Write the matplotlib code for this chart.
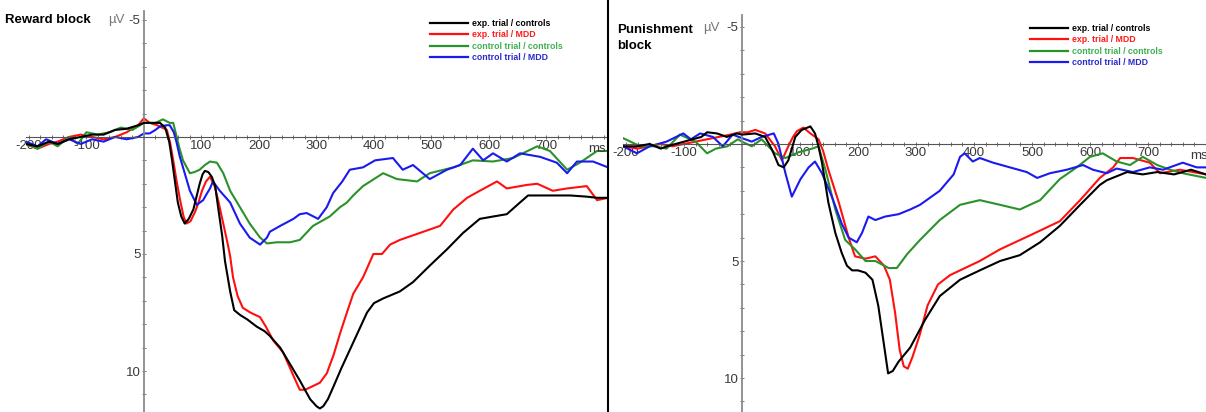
import matplotlib
matplotlib.use('Agg')
import matplotlib.pyplot as plt
from matplotlib.lines import Line2D
from matplotlib.ticker import MultipleLocator, FixedLocator

plt.rcParams['font.family'] = ['Liberation Sans', 'DejaVu Sans']
plt.rcParams['axes.unicode_minus'] = False

# ---- data (ms, µV) ----
labels = ['exp. trial / controls', 'exp. trial / MDD', 'control trial / controls', 'control trial / MDD']
line_colors = ['#000000', '#ff1010', '#2a922a', '#1a1aee']
text_colors = ['#000000', '#ff1a1a', '#3cb050', '#2a2acc']

# Reward block
rw_black_t = [-205, -185, -165, -150, -130, -110, -90, -70, -50, -30, -10, 0, 15, 28, 37, 44, 49, 54, 59, 65, 71, 78, 86, 92, 97, 102, 106, 112, 118, 124, 129, 136, 141, 150, 157, 167, 180, 196, 210, 219, 237, 254, 271, 289, 300, 306, 312, 320, 329, 343, 358, 373, 388, 400, 416, 445, 468, 497, 527, 555, 584, 607, 631, 654, 668, 700, 741, 770, 788, 807]
rw_black = [0.3, 0.4, 0.2, 0.3, 0.1, 0.0, -0.1, -0.1, -0.3, -0.35, -0.5, -0.6, -0.6, -0.6, -0.4, 0.2, 1.0, 1.9, 2.8, 3.4, 3.7, 3.5, 3.1, 2.5, 2.0, 1.6, 1.45, 1.5, 1.7, 2.1, 3.0, 4.2, 5.3, 6.6, 7.4, 7.6, 7.8, 8.1, 8.3, 8.5, 9.0, 9.7, 10.4, 11.2, 11.5, 11.6, 11.5, 11.2, 10.7, 9.9, 9.1, 8.3, 7.5, 7.1, 6.9, 6.6, 6.2, 5.5, 4.8, 4.1, 3.5, 3.4, 3.3, 2.8, 2.5, 2.5, 2.5, 2.55, 2.6, 2.6]

rw_red_t = [-205, -185, -165, -150, -130, -110, -90, -70, -50, -30, -10, 0, 10, 23, 32, 40, 46, 51, 57, 63, 69, 74, 81, 89, 95, 101, 108, 115, 123, 130, 138, 146, 150, 155, 163, 172, 185, 202, 212, 225, 242, 260, 271, 280, 289, 306, 318, 330, 341, 353, 364, 381, 399, 414, 428, 445, 480, 515, 538, 562, 584, 614, 631, 666, 684, 711, 736, 770, 788, 807]
rw_red = [0.3, 0.5, 0.3, 0.2, 0.0, -0.1, 0.0, 0.1, 0.0, -0.2, -0.5, -0.8, -0.6, -0.5, -0.4, -0.3, 0.3, 1.0, 1.9, 2.7, 3.4, 3.7, 3.6, 3.2, 2.8, 2.3, 1.9, 1.7, 2.1, 2.8, 3.7, 4.6, 5.1, 6.0, 6.8, 7.3, 7.5, 7.7, 8.1, 8.7, 9.2, 10.2, 10.8, 10.8, 10.7, 10.5, 10.1, 9.3, 8.4, 7.5, 6.7, 6.0, 5.0, 5.0, 4.6, 4.4, 4.1, 3.8, 3.1, 2.6, 2.3, 1.9, 2.2, 2.05, 2.0, 2.3, 2.2, 2.1, 2.7, 2.6]

rw_green_t = [-205, -185, -165, -150, -130, -115, -100, -80, -60, -40, -20, 0, 20, 33, 45, 51, 57, 62, 68, 80, 88, 97, 106, 115, 127, 138, 150, 167, 184, 202, 214, 231, 254, 271, 294, 323, 341, 353, 364, 381, 400, 416, 440, 475, 497, 538, 572, 607, 642, 684, 706, 736, 758, 788, 807]
rw_green = [0.3, 0.5, 0.2, 0.4, 0.0, 0.3, -0.2, -0.1, -0.2, -0.4, -0.3, -0.6, -0.6, -0.75, -0.6, -0.6, 0.0, 0.5, 1.0, 1.55, 1.5, 1.4, 1.2, 1.05, 1.1, 1.55, 2.3, 3.0, 3.7, 4.3, 4.55, 4.5, 4.5, 4.4, 3.8, 3.4, 3.0, 2.8, 2.5, 2.1, 1.8, 1.55, 1.8, 1.9, 1.55, 1.3, 1.0, 1.05, 0.9, 0.4, 0.6, 1.4, 1.1, 0.6, 0.6]

rw_blue_t = [-205, -185, -170, -150, -130, -110, -90, -70, -50, -30, -10, 0, 10, 20, 28, 40, 45, 52, 57, 62, 68, 80, 92, 103, 110, 115, 120, 126, 132, 150, 167, 184, 202, 214, 219, 237, 260, 271, 283, 303, 318, 329, 345, 358, 381, 402, 433, 450, 468, 497, 527, 550, 572, 590, 607, 631, 654, 689, 718, 736, 753, 781, 807]
rw_blue = [0.2, 0.4, 0.1, 0.3, 0.1, 0.3, 0.1, 0.2, 0.0, 0.1, 0.0, -0.15, -0.15, -0.3, -0.45, -0.5, -0.5, -0.2, 0.25, 0.8, 1.3, 2.3, 2.9, 2.7, 2.4, 2.2, 1.9, 2.1, 2.3, 2.8, 3.7, 4.3, 4.6, 4.3, 4.05, 3.8, 3.5, 3.3, 3.25, 3.5, 3.0, 2.4, 1.9, 1.4, 1.3, 1.0, 0.9, 1.4, 1.2, 1.8, 1.4, 1.2, 0.5, 1.0, 0.7, 1.05, 0.7, 0.85, 1.1, 1.55, 1.05, 1.05, 1.3]

# Punishment block
pu_black_t = [-205, -180, -159, -140, -129, -107, -85, -70, -60, -43, -26, -9, 0, 23, 40, 52, 63, 72, 80, 86, 92, 103, 118, 126, 132, 138, 149, 161, 172, 181, 190, 200, 213, 225, 235, 245, 252, 260, 270, 290, 316, 341, 376, 410, 445, 479, 514, 548, 583, 617, 629, 664, 691, 716, 745, 774, 800]
pu_black = [0.1, 0.1, 0.0, 0.2, 0.1, -0.05, -0.2, -0.3, -0.5, -0.45, -0.3, -0.45, -0.4, -0.45, -0.3, 0.25, 0.9, 1.0, 0.7, 0.2, -0.3, -0.6, -0.75, -0.45, 0.1, 0.8, 2.5, 3.8, 4.65, 5.2, 5.4, 5.4, 5.5, 5.8, 6.9, 8.6, 9.8, 9.7, 9.3, 8.7, 7.5, 6.5, 5.8, 5.4, 5.0, 4.75, 4.2, 3.5, 2.6, 1.75, 1.55, 1.2, 1.3, 1.2, 1.3, 1.1, 1.3]

pu_red_t = [-205, -180, -160, -140, -120, -100, -80, -60, -40, -20, -3, 10, 23, 40, 57, 69, 80, 88, 95, 106, 118, 132, 140, 149, 167, 184, 195, 213, 230, 245, 255, 264, 272, 279, 286, 294, 306, 320, 338, 359, 410, 445, 497, 548, 583, 617, 640, 652, 674, 703, 721, 755, 800]
pu_red = [0.1, 0.2, 0.1, 0.0, 0.1, 0.0, -0.1, -0.2, -0.3, -0.4, -0.5, -0.5, -0.6, -0.45, 0.1, 0.7, 0.1, -0.3, -0.55, -0.7, -0.45, -0.2, 0.3, 1.1, 2.5, 4.0, 4.8, 4.9, 4.8, 5.2, 5.8, 7.2, 8.8, 9.5, 9.6, 9.1, 8.2, 6.9, 6.0, 5.6, 5.0, 4.5, 3.9, 3.3, 2.4, 1.45, 1.0, 0.6, 0.6, 0.8, 1.25, 1.1, 1.3]

pu_green_t = [-205, -175, -150, -130, -107, -80, -60, -45, -25, -7, 0, 17, 34, 57, 75, 98, 121, 132, 144, 161, 178, 195, 213, 230, 253, 267, 285, 307, 341, 376, 410, 445, 479, 514, 548, 577, 600, 622, 646, 669, 691, 716, 738, 760, 800]
pu_green = [-0.25, 0.1, 0.1, 0.2, -0.4, -0.1, 0.4, 0.2, 0.1, -0.2, -0.1, 0.1, -0.2, 0.4, 0.6, 0.35, 0.2, 0.1, 1.1, 2.8, 4.1, 4.5, 5.0, 5.0, 5.3, 5.3, 4.7, 4.1, 3.25, 2.6, 2.4, 2.6, 2.8, 2.4, 1.5, 1.0, 0.55, 0.4, 0.75, 0.9, 0.55, 0.9, 1.1, 1.25, 1.45]

pu_blue_t = [-205, -181, -159, -130, -101, -88, -72, -50, -33, -16, 0, 17, 34, 55, 63, 75, 86, 101, 115, 126, 138, 155, 172, 184, 198, 207, 218, 230, 247, 270, 290, 307, 341, 365, 376, 384, 398, 410, 433, 462, 491, 509, 531, 560, 588, 605, 629, 646, 674, 703, 726, 760, 784, 800]
pu_blue = [0.1, 0.4, 0.1, -0.1, -0.45, -0.2, -0.45, -0.3, 0.1, -0.4, -0.25, -0.1, -0.3, -0.45, 0.0, 1.25, 2.25, 1.5, 1.0, 0.75, 1.25, 2.25, 3.4, 4.0, 4.2, 3.8, 3.1, 3.25, 3.1, 3.0, 2.8, 2.6, 2.0, 1.3, 0.55, 0.4, 0.75, 0.6, 0.8, 1.0, 1.2, 1.45, 1.25, 1.1, 0.9, 1.1, 1.25, 1.05, 1.2, 1.0, 1.1, 0.8, 1.0, 1.0]

x_ticks = [-200, -100, 100, 200, 300, 400, 500, 600, 700]
y_ticks = [-5, 5, 10]
y_minor = list(range(-5, 12))

W, H = 1206, 412
fig = plt.figure(figsize=(W / 100, H / 100), dpi=100)


def setup(ax, xlim, ylim, ytop):
    ax.set_xlim(*xlim)
    ax.set_ylim(*ylim)
    ax.patch.set_alpha(0)
    for s in ['top', 'right']:
        ax.spines[s].set_visible(False)
    ax.spines['left'].set_position(('data', 0))
    ax.spines['bottom'].set_position(('data', 0))
    ax.spines['left'].set_bounds(ytop, ylim[0])
    ax.spines['left'].set_color('#8a8a8a')
    ax.spines['left'].set_linewidth(1.3)
    ax.spines['bottom'].set_color('#555555')
    ax.spines['bottom'].set_linewidth(0.8)
    ax.xaxis.set_major_locator(FixedLocator(x_ticks))
    ax.xaxis.set_minor_locator(MultipleLocator(20))
    ax.yaxis.set_major_locator(FixedLocator(y_ticks))
    ax.yaxis.set_minor_locator(FixedLocator(y_minor))
    ax.tick_params(axis='x', which='both', direction='inout', length=3, width=0.6,
                   color='#555555', labelsize=9.5, labelcolor='#3a3a3a', pad=1)
    ax.tick_params(axis='y', which='both', direction='inout', length=3, width=0.6,
                   color='#666666', labelsize=9.5, labelcolor='#3a3a3a', pad=1)
    ax.text(788, 0.25, 'ms', fontsize=9.5, color='#3a3a3a', ha='center', va='top')


def draw(ax, series, leg_xy):
    handles = []
    for (t, v), c, lab in zip(series, line_colors, labels):
        h, = ax.plot(t, v, color=c, lw=1.5, label=lab)
        handles.append(h)
    handles[0].set_zorder(3)
    leg = ax.legend(handles, labels, loc='upper left',
                    bbox_to_anchor=(leg_xy[0] / W, 1 - leg_xy[1] / H),
                    bbox_transform=fig.transFigure, frameon=False,
                    prop={'weight': 'bold', 'size': 6.3},
                    handlelength=4.3, handletextpad=0.5, labelspacing=0.28,
                    borderpad=0, borderaxespad=0, labelcolor=text_colors)
    for ln in leg.get_lines():
        ln.set_linewidth(1.6)


ax1 = fig.add_axes([26 / W, 0, (608 - 26) / W, 1])
setup(ax1, (-205, 807), (11.75, -5.85), -5.4)
draw(ax1, [(rw_black_t, rw_black), (rw_red_t, rw_red), (rw_green_t, rw_green), (rw_blue_t, rw_blue)], (430, 19))

ax2 = fig.add_axes([623 / W, 0, (W - 623) / W, 1])
setup(ax2, (-205, 800), (11.45, -6.15), -5.5)
draw(ax2, [(pu_black_t, pu_black), (pu_red_t, pu_red), (pu_green_t, pu_green), (pu_blue_t, pu_blue)], (1030, 24))

# titles and unit labels
fig.text(5 / W, 1 - 20 / H, 'Reward block', fontsize=9.5, fontweight='bold', va='center', ha='left')
fig.text(108 / W, 1 - 20 / H, 'µV', fontsize=9.5, color='#777777', va='center', ha='left')
fig.text(617 / W, 1 - 38 / H, 'Punishment\nblock', fontsize=9.5, fontweight='bold', va='center', ha='left',
         linespacing=1.5)
fig.text(703 / W, 1 - 28 / H, 'µV', fontsize=9.5, color='#777777', va='center', ha='left')

# divider between the panels
fig.add_artist(Line2D([608 / W, 608 / W], [0, 1], color='black', lw=1.5, transform=fig.transFigure))

fig.savefig('out.png', dpi=100)
